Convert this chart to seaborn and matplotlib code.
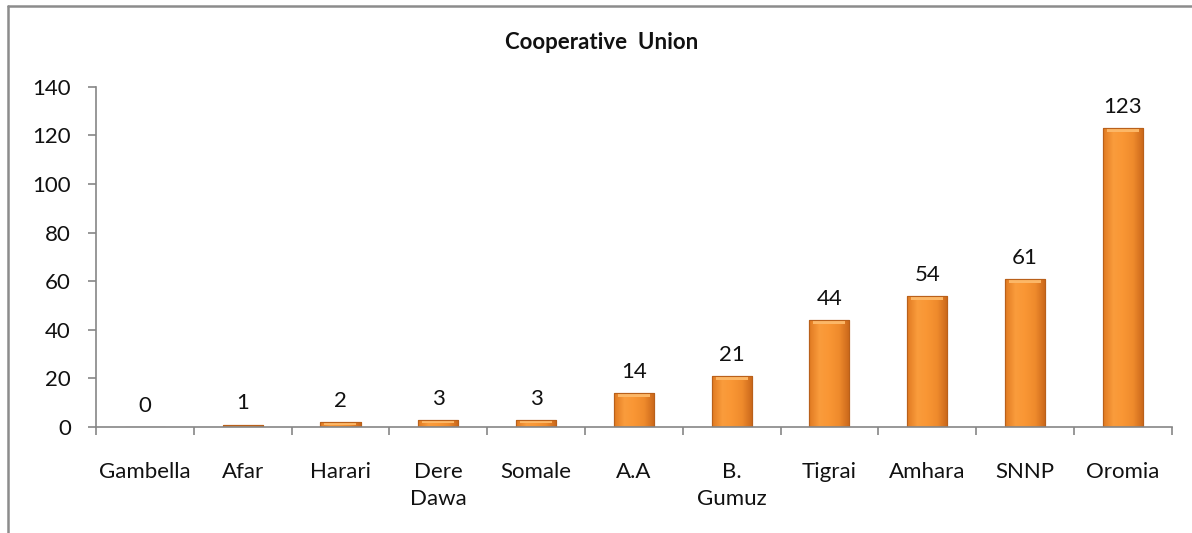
import numpy as np
import matplotlib.pyplot as plt
from matplotlib.lines import Line2D
from matplotlib.colors import LinearSegmentedColormap
import seaborn as sns

regions = ["Gambella", "Afar", "Harari", "Dere\nDawa", "Somale", "A.A",
           "B.\nGumuz", "Tigrai", "Amhara", "SNNP", "Oromia"]
unions = [0, 1, 2, 3, 3, 14, 21, 44, 54, 61, 123]
yticks = [0, 20, 40, 60, 80, 100, 120, 140]

sns.set_theme(style="white")
plt.rcParams['font.family'] = ['Lato', 'DejaVu Sans']

fig = plt.figure(figsize=(11.92, 5.33), dpi=100)
ax = fig.add_axes([0.0805, 0.199, 0.9025, 0.638])

sns.barplot(x=regions, y=unions, color="#F7923A", width=0.41,
            edgecolor="#C4661C", linewidth=0.8, ax=ax)

# gradient fill on each bar to mimic the bevelled excel look
cmap = LinearSegmentedColormap.from_list(
    "bev", ["#E07A22", "#FA9C3C", "#F99634", "#EE8A2C", "#C9661A"])
grad = np.linspace(0, 1, 64).reshape(1, -1)
for p in ax.patches:
    x0, y0 = p.get_x(), p.get_y()
    w, h = p.get_width(), p.get_height()
    if h <= 0:
        continue
    im = ax.imshow(grad, cmap=cmap, aspect="auto",
                   extent=[x0, x0 + w, y0, y0 + h], zorder=p.get_zorder() + 0.1)
    im.set_clip_path(p)
    top = min(1.6, h * 0.5)
    ax.fill_between([x0 + w * 0.1, x0 + w * 0.9], y0 + h - top, y0 + h,
                    color="#FCB767", lw=0, zorder=p.get_zorder() + 0.2)
    ax.add_patch(plt.Rectangle((x0, y0), w, h, fill=False, ec="#B9601A",
                               lw=0.8, zorder=p.get_zorder() + 0.3))

for i, v in enumerate(unions):
    ax.annotate(str(v), (i, v), xytext=(0, 8), textcoords="offset points",
                ha="center", va="bottom", fontsize=16, color="#111111")

ax.set_xlim(-0.5, len(regions) - 0.5)
ax.set_ylim(0, 140)
ax.set_yticks(yticks)
ax.set_yticklabels([str(t) for t in yticks], fontsize=16, color="#111111")
ax.set_xticklabels(regions, fontsize=16, color="#111111")
for lbl in ax.get_xticklabels():
    lbl.set_linespacing(1.45)
ax.set_xticks(np.arange(-0.5, len(regions)), minor=True)
ax.tick_params(axis="x", which="major", length=0, pad=25)
ax.tick_params(axis="x", which="minor", length=6, width=1.2,
               color="#868686", direction="out", bottom=True)
ax.tick_params(axis="y", length=6, width=1.2, color="#868686",
               direction="out", left=True, pad=12)
for s in ["top", "right"]:
    ax.spines[s].set_visible(False)
for s in ["left", "bottom"]:
    ax.spines[s].set_color("#868686")
    ax.spines[s].set_linewidth(1.2)
ax.set_xlabel("")
ax.set_ylabel("")

fig.text(0.505, 0.921, "Cooperative  Union", ha="center", va="center",
         fontsize=16, fontweight="bold", color="#111111")

# chart frame (left and top edges visible)
fig.add_artist(Line2D([0.007, 0.007], [0, 0.989], color="#8C8C8C", lw=1.8))
fig.add_artist(Line2D([0.007, 1.0], [0.989, 0.989], color="#8C8C8C", lw=1.8))

fig.savefig("out.png", dpi=100)
